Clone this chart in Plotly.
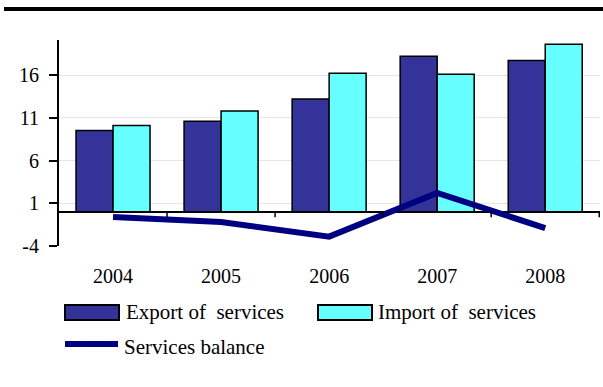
import plotly.graph_objects as go

# Services trade, billions
years = ["2004", "2005", "2006", "2007", "2008"]
export_services = [9.5, 10.6, 13.2, 18.2, 17.7]
import_services = [10.1, 11.8, 16.2, 16.1, 19.6]
services_balance = [-0.6, -1.2, -2.9, 2.2, -1.9]
y_ticks = [-4, 1, 6, 11, 16]
y_tick_labels = ["-4", "1", "6", "11", "16"]

W, H = 603, 387
L, R, T, B = 59, 3, 40, 141
PW, PH = W - L - R, H - T - B
FONT = "Liberation Serif, Times New Roman, serif"


def px(x):
    return (x - L) / PW


def py(y):
    return (H - B - y) / PH


fig = go.Figure()
fig.add_trace(go.Bar(x=years, y=export_services, name="Export of services",
                     marker=dict(color="#333399", line=dict(color="black", width=1.5))))
fig.add_trace(go.Bar(x=years, y=import_services, name="Import of services",
                     marker=dict(color="#66FFFF", line=dict(color="black", width=1.5))))
fig.add_trace(go.Scatter(x=years, y=services_balance, name="Services balance",
                         mode="lines", line=dict(color="#000080", width=6)))

shapes = []
# tick marks hanging below the zero line, between categories
for i in range(len(years)):
    shapes.append(dict(type="line", xref="x", yref="y", x0=i + 0.5, x1=i + 0.5,
                       y0=0, y1=-0.65, line=dict(color="black", width=1.5)))
# rule across the top of the figure
shapes.append(dict(type="line", xref="paper", yref="paper", x0=px(4), x1=px(603),
                   y0=py(9), y1=py(9), line=dict(color="black", width=4)))
# legend swatches
shapes.append(dict(type="rect", xref="paper", yref="paper", x0=px(65), x1=px(119),
                   y0=py(320), y1=py(305), fillcolor="#333399",
                   line=dict(color="black", width=2)))
shapes.append(dict(type="rect", xref="paper", yref="paper", x0=px(318), x1=px(372),
                   y0=py(320), y1=py(305), fillcolor="#66FFFF",
                   line=dict(color="black", width=2)))
shapes.append(dict(type="line", xref="paper", yref="paper", x0=px(65), x1=px(118),
                   y0=py(344), y1=py(344), line=dict(color="#000080", width=6)))

annotations = [
    dict(text="Export of\u00a0 services", x=px(124), y=py(312)),
    dict(text="Import of\u00a0 services", x=px(376), y=py(312)),
    dict(text="Services balance", x=px(122), y=py(347)),
]
for a in annotations:
    a.update(xref="paper", yref="paper", xanchor="left", yanchor="middle",
             showarrow=False, font=dict(family=FONT, size=21, color="black"))

fig.update_layout(
    width=W, height=H,
    margin=dict(l=L, r=R, t=T, b=B),
    paper_bgcolor="white", plot_bgcolor="white",
    barmode="group", bargap=0.315, bargroupgap=0,
    showlegend=False,
    font=dict(family=FONT, size=20, color="black"),
    shapes=shapes, annotations=annotations,
)
fig.update_xaxes(showline=False, ticks="", showgrid=False, zeroline=False,
                 ticklabelstandoff=16, tickfont=dict(family=FONT, size=20))
fig.update_yaxes(range=[-4, 20.1], tickvals=y_ticks, ticktext=y_tick_labels,
                 ticks="outside", ticklen=8,
                 tickwidth=1.5, tickcolor="black", showline=True, linecolor="black",
                 linewidth=2, showgrid=True, gridcolor="#e6e6e6", gridwidth=1,
                 zeroline=True, zerolinecolor="black", zerolinewidth=2,
                 tickfont=dict(family=FONT, size=20), ticklabelstandoff=6)

fig.write_html("out.html")
